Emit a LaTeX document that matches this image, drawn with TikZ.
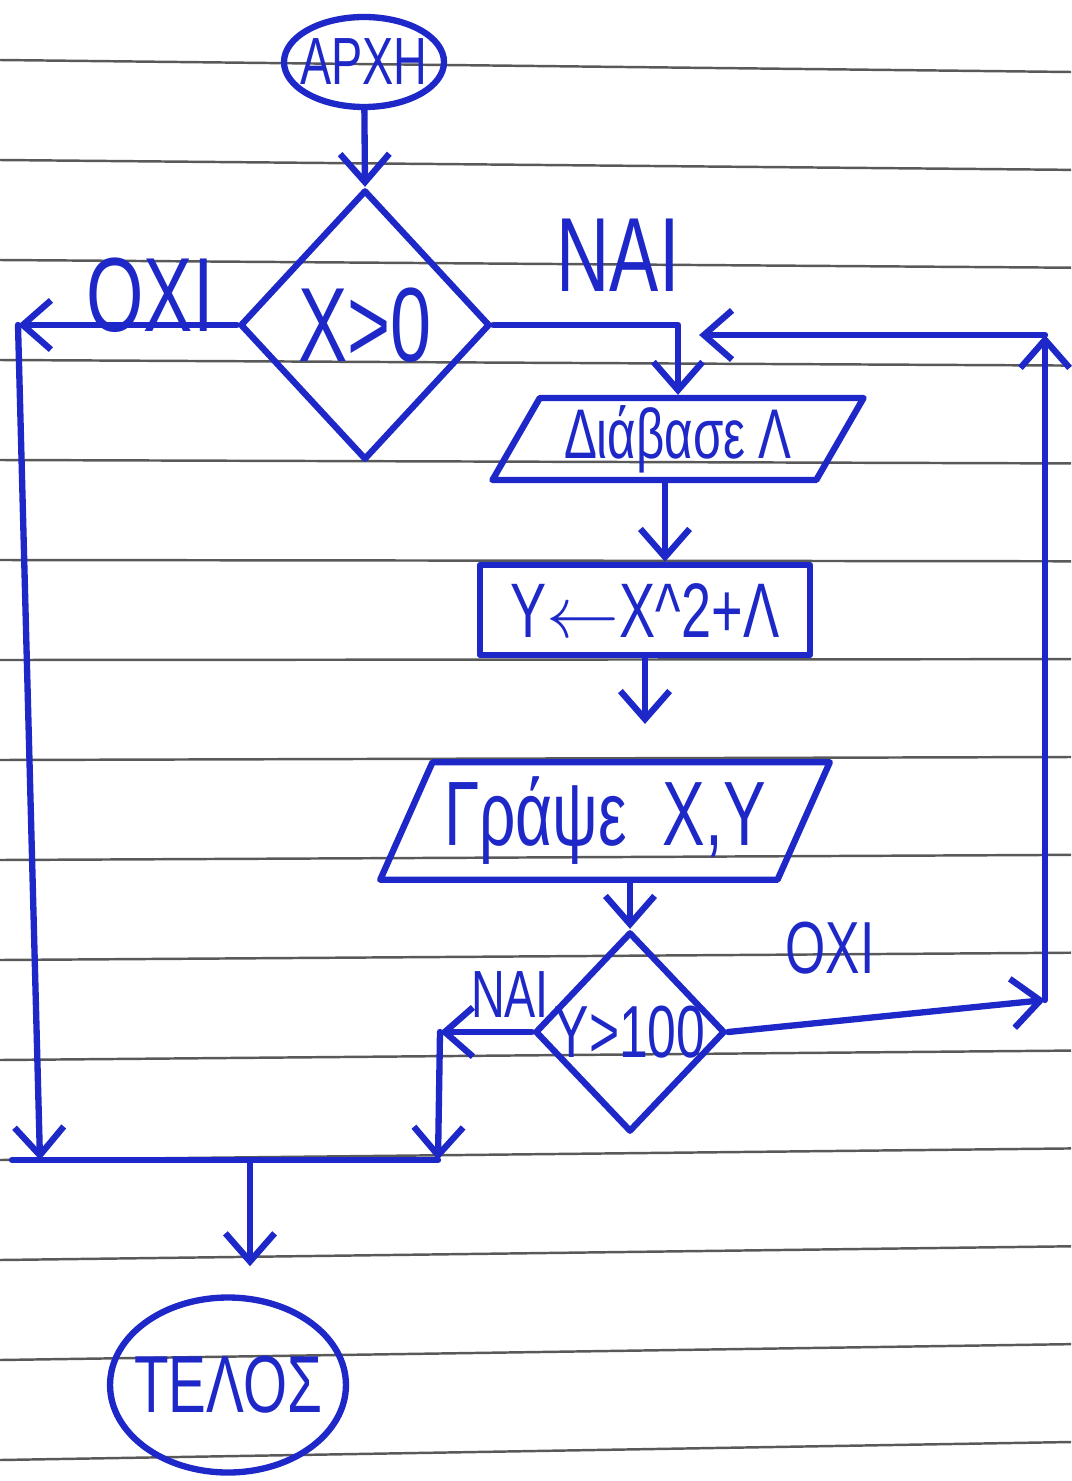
\documentclass[tikz,border=0pt]{standalone}
\usepackage{fontspec}
\setmainfont{Liberation Sans}[FakeStretch=0.7]
\usetikzlibrary{shapes.geometric,arrows.meta}
\definecolor{ink}{RGB}{30,40,200}
\newcommand{\fsz}[1]{\fontsize{#1}{#1}\selectfont}
\tikzset{
  ln/.style={ink, line width=1.8pt, line cap=round, line join=round},
  arr/.style={ln, -{Straight Barb[length=8pt,width=14pt]}},
  term/.style={ln, draw, ellipse, inner sep=-3pt},
  dec/.style={ln, draw, diamond, inner sep=0pt},
  io/.style={ln, draw, trapezium, trapezium left angle=60, trapezium right angle=120, inner sep=0pt},
  proc/.style={ln, draw, rectangle, inner sep=0pt},
  lbl/.style={ink, inner sep=0pt},
  rule/.style={black!65, line width=0.7pt}
}

\begin{document}
\begin{tikzpicture}
  \useasboundingbox (0,0) rectangle (10.71,-14.81);

  % ---------- ruled notebook paper ----------
  \foreach \y in {0.6,1.6,...,14.6}
    \draw[rule] (0,-\y) -- ({10.71},{-\y-0.12+0.3*(\y-0.6)/14});

  % ---------- boxes ----------
  \node[term, minimum width=1.6cm, minimum height=0.9cm, font=\fsz{19}] (start) at (3.64,-0.62) {ΑΡΧΗ};
  \node[dec, minimum width=2.5cm, minimum height=2.7cm, font=\fsz{30}] (x0) at (3.65,-3.25) {Χ>0};
  \node[io, minimum width=3.45cm, minimum height=0.82cm, font=\fsz{20}] (rd) at (6.78,-4.39) {Διάβασε Λ};
  \node[proc, minimum width=3.3cm, minimum height=0.9cm, font=\fsz{22}] (calc) at (6.45,-6.10) {Υ$\leftarrow$Χ\textasciicircum 2+Λ};
  \node[io, inner xsep=-9pt, trapezium left angle=66, trapezium right angle=114, minimum width=4.5cm, minimum height=1.13cm, font=\fsz{26}] (wr) at (6.05,-8.21) {Γράψε\ \ Χ,Υ};
  \node[dec, inner sep=-3pt, minimum width=1.9cm, minimum height=2.0cm, font=\fsz{21}] (y100) at (6.30,-10.32) {Υ>100};
  \node[term, minimum width=2.2cm, minimum height=1.75cm, font=\fsz{23}] (stop) at (2.28,-13.85) {ΤΕΛΟΣ};

  % ---------- labels ----------
  \node[lbl, font=\fsz{30}] (yes1) at (6.18,-2.55) {ΝΑΙ};
  \node[lbl, font=\fsz{30}] (no1) at (1.50,-2.95) {ΟΧΙ};
  \node[lbl, font=\fsz{19}] (yes2) at (5.10,-9.95) {ΝΑΙ};
  \node[lbl, font=\fsz{21}] (no2) at (8.30,-9.48) {ΟΧΙ};

  % ---------- corners ----------
  \coordinate (lt) at (0.18,-3.25);
  \coordinate (lb) at (0.40,-11.6);
  \coordinate (ml) at (0.12,-11.6);
  \coordinate (nt) at (4.40,-10.32);
  \coordinate (nb) at (4.38,-11.6);
  \coordinate (mo) at (2.50,-11.6);
  \coordinate (rb) at (10.45,-10.0);
  \coordinate (rt) at (10.45,-3.35);
  \coordinate (jn) at (rd.north |- rt);

  % ---------- main flow ----------
  \draw[arr] (start) -- (x0.north);
  \draw[arr] (x0.east) -| (rd.north);
  \draw[arr] ([xshift=0.2cm]calc.north |- rd.south) -- ([xshift=0.2cm]calc.north);
  \draw[arr, shorten >=10pt] (calc.south) -- (calc.south |- wr.north);
  \draw[arr] (y100.north |- wr.south) -- (y100.north);

  % X>0 no : out left, then down to the join line
  \draw[arr] (x0.west) -- (lt);
  \draw[arr] (lt) -- (lb);

  % Y>100 yes : left, then down
  \draw[arr] (y100.west) -- (nt);
  \draw[arr] (nt) -- (nb);

  % join line, down to the end
  \draw[ln] (ml) -- (nb);
  \draw[arr, shorten >=8pt] (mo) -- (mo |- stop.north);

  % Y>100 no : loop back up to the read box
  \draw[arr] (y100.east) -- (rb);
  \draw[arr] (rb) -- (rt);
  \draw[arr, shorten >=6pt] (rt) -- (jn);

\end{tikzpicture}
\end{document}
